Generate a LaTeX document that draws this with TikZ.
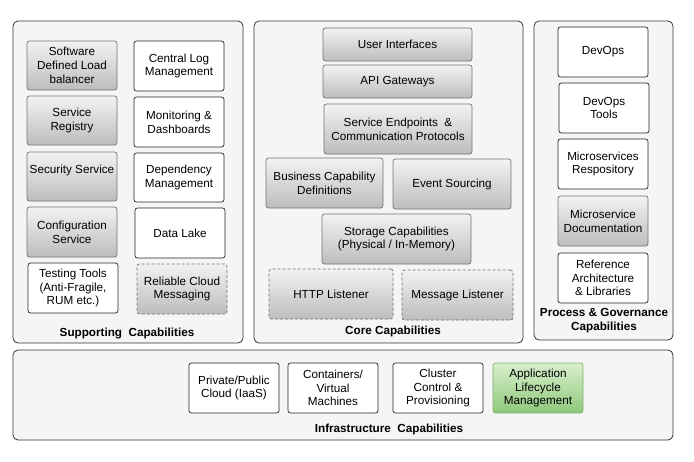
\documentclass[tikz,border=0pt]{standalone}
\usepackage{fontspec}
\setmainfont{Liberation Sans}
\definecolor{gtop}{HTML}{D8EECC}
\definecolor{gbot}{HTML}{8EC97A}
\definecolor{gbrd}{HTML}{82B070}
\begin{document}
\begin{tikzpicture}[x=1pt,y=-1pt,
  every node/.style={font=\fontsize{11.7}{13.8}\selectfont, text=black, align=center, inner sep=1pt},
  container/.style={draw=black!80, fill=black!4, rounded corners=5pt, line width=0.8pt},
  wbox/.style={draw=black!85, fill=white, rounded corners=2.5pt, line width=0.7pt, minimum width=90, minimum height=50},
  gbox/.style={draw=black!55, top color=black!5, bottom color=black!26, rounded corners=2.5pt, line width=0.7pt, minimum width=90, minimum height=49},
  dbox/.style={gbox, draw=black!55, dash pattern=on 3pt off 2pt},
  greenbox/.style={draw=gbrd, top color=gtop, bottom color=gbot, rounded corners=2.5pt, line width=0.7pt, minimum width=90, minimum height=50},
  ttl/.style={font=\fontsize{11.7}{13.8}\selectfont\bfseries}
]
\useasboundingbox[fill=white] (0,0) rectangle (694,461);

% containers
\draw[container] (13,21) rectangle (243,343);
\draw[container] (254,21) rectangle (523,343);
\draw[container] (534,21) rectangle (673,340);
\draw[container] (13,350) rectangle (673,440);

% Supporting capabilities
\node[gbox] (sdlb) at (72,65.5) {Software\\Defined Load\\balancer};
\node[gbox] (sreg) at (72,120.5) {Service\\Registry};
\node[gbox] (secs) at (72,176.5) {Security Service\\~};
\node[gbox, minimum height=50] (conf) at (72,232) {Configuration\\Service};
\node[wbox] (test) at (73,288) {Testing Tools\\(Anti-Fragile,\\RUM etc.)};
\node[wbox] (clog) at (179,66) {Central Log\\Management};
\node[wbox] (mon) at (179,122) {Monitoring \&\\Dashboards};
\node[wbox, minimum height=49] (dep) at (179,177.5) {Dependency\\Management};
\node[wbox] (lake) at (180,233) {Data Lake};
\node[dbox, minimum height=50] (rcm) at (182,289) {Reliable Cloud\\Messaging};
\node[ttl] (supt) at (127,333) {Supporting\ \ Capabilities};

% Core capabilities
\node[gbox, minimum width=149, minimum height=33] (ui) at (397.5,44.5) {User Interfaces};
\node[gbox, minimum width=149, minimum height=33] (api) at (397.5,81.5) {API Gateways};
\node[gbox, minimum width=148, minimum height=50] (sep) at (398,129) {Service Endpoints\ \ \&\\Communication Protocols};
\node[gbox, minimum width=117, minimum height=50] (bcd) at (324.5,183) {Business Capability\\Definitions};
\node[gbox, minimum width=118, minimum height=50] (evs) at (452,184) {Event Sourcing};
\node[gbox, minimum width=149, minimum height=50] (stor) at (396.5,239) {Storage Capabilities\\(Physical / In-Memory)};
\node[dbox, minimum width=124, minimum height=50] (http) at (331,294) {HTTP Listener};
\node[dbox, minimum width=111, minimum height=50] (msgl) at (457.5,295) {Message Listener};
\node[ttl] (coret) at (393,331) {Core Capabilities};

% Process & Governance
\node[wbox] (dev) at (603,52) {DevOps};
\node[wbox] (dtools) at (604,108) {DevOps\\Tools};
\node[wbox] (mrep) at (603,164) {Microservices\\Respository};
\node[gbox, minimum height=50] (mdoc) at (603,221) {Microservice\\Documentation};
\node[wbox] (ref) at (603,278) {Reference\\Architecture\\\& Libraries};
\node[ttl] (proct) at (604,321) {Process \& Governance\\Capabilities};

% Infrastructure
\node[wbox] (cloud) at (234,388) {Private/Public\\Cloud (IaaS)};
\node[wbox] (cont) at (333,388) {Containers/\\Virtual\\Machines};
\node[wbox] (clus) at (438,388) {Cluster\\Control \&\\Provisioning};
\node[greenbox] (alm) at (538,388) {Application\\Lifecycle\\Management};
\node[ttl] (infrat) at (389,429) {Infrastructure\ \ Capabilities};
\end{tikzpicture}
\end{document}
